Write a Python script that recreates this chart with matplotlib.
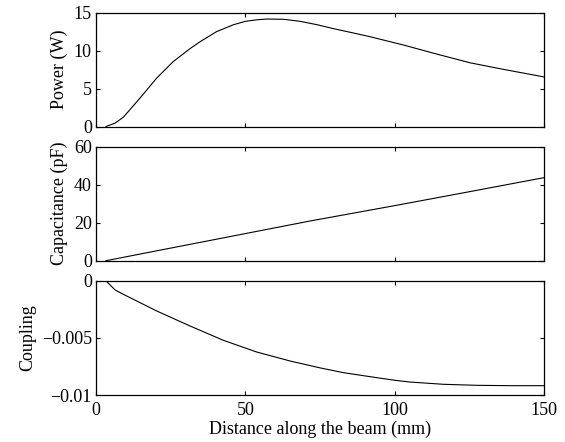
import numpy as np
import matplotlib
matplotlib.use("Agg")
import matplotlib.pyplot as plt

plt.rcParams['font.family'] = ['Liberation Serif', 'DejaVu Serif']
plt.rcParams['font.size'] = 13

# distance along the beam (mm) and read-off values
power_x = [3.35, 6.4, 9.15, 14.7, 20.3, 25.9, 31.5, 34.8, 40.4, 46.0, 50.0, 53.8,
           57.1, 62.7, 68.3, 73.9, 79.5, 85.1, 91.7, 102.9, 114.0, 125.2, 136.4, 150.0]
power_y = [0.0, 0.45, 1.23, 3.75, 6.4, 8.6, 10.3, 11.2, 12.55, 13.45, 13.9, 14.1,
           14.2, 14.17, 13.9, 13.46, 12.93, 12.45, 11.87, 10.77, 9.58, 8.42, 7.55, 6.55]

cap_x = [3.35, 20.3, 42.6, 71.7, 100.1, 125.0, 150.0]
cap_y = [0.0, 5.2, 12.0, 20.9, 29.0, 36.3, 43.7]

coup_x = [3.35, 6.4, 9.15, 20.3, 31.5, 42.6, 53.8, 65.0, 75.0, 82.8, 94.0,
          100.1, 105.0, 116.3, 127.5, 138.6, 150.0]
coup_y = [0.0, -0.00079, -0.00117, -0.00263, -0.00395, -0.00520, -0.00623,
          -0.00702, -0.00762, -0.00804, -0.00848, -0.00871, -0.00886,
          -0.00906, -0.00915, -0.00918, -0.00918]

xticks = [0, 50, 100, 150]

fig = plt.figure(figsize=(5.65, 4.42), dpi=100)
ax1 = fig.add_axes([0.170, 0.7138, 0.793, 0.2568])
ax2 = fig.add_axes([0.170, 0.4102, 0.793, 0.2580])
ax3 = fig.add_axes([0.170, 0.1063, 0.793, 0.2580])

ax1.plot(power_x, power_y, color='black', lw=0.8)
ax1.set_ylim(0, 15)
ax1.set_yticks([0, 5, 10, 15])
ax1.set_ylabel('Power (W)')

ax2.plot(cap_x, cap_y, color='black', lw=0.8)
ax2.set_ylim(0, 60)
ax2.set_yticks([0, 20, 40, 60])
ax2.set_ylabel('Capacitance (pF)')

ax3.plot(coup_x, coup_y, color='black', lw=0.8)
ax3.set_ylim(-0.01, 0)
ax3.set_yticks([-0.01, -0.005, 0])
ax3.set_yticklabels(['\u22120.01', '\u22120.005', '0'])
ax3.set_ylabel('Coupling')
ax3.set_xlabel('Distance along the beam (mm)', labelpad=1)

for ax in (ax1, ax2, ax3):
    ax.set_xlim(0, 150)
    ax.set_xticks(xticks)
    ax.tick_params(direction='in', top=True, right=True, length=3, width=0.8, pad=3)
    ax.tick_params(axis='x', pad=5)
    for sp in ax.spines.values():
        sp.set_linewidth(0.9)
ax1.set_xticklabels([])
ax2.set_xticklabels([])

fig.savefig('out.png', dpi=100)
